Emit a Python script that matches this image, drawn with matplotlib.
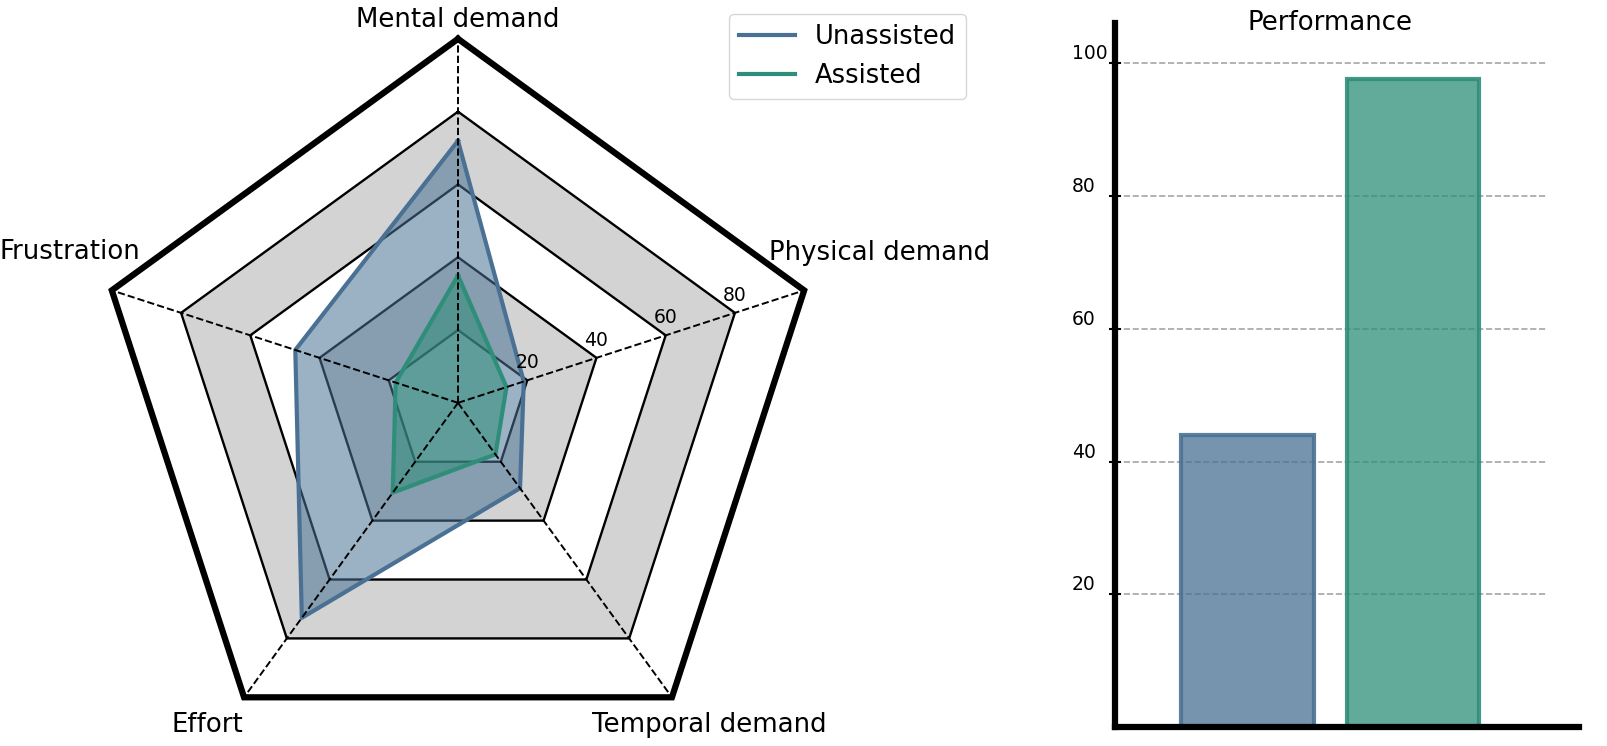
import numpy as np
import matplotlib
matplotlib.use("Agg")
import matplotlib.pyplot as plt
from matplotlib.lines import Line2D

# ---------------- data ----------------
categories = ["Mental demand", "Physical demand", "Temporal demand", "Effort", "Frustration"]
unassisted = [72, 19, 29, 73, 47]
assisted = [35, 14, 17.5, 30.5, 18]
ring_levels = [20, 40, 60, 80]
series_names = ["Unassisted", "Assisted"]
performance = [44, 97.7]
perf_ticks = [20, 40, 60, 80, 100]

blue = "#4a7194"
green = "#2e8e79"
FS = 18.7

fig = plt.figure(figsize=(16.07, 7.46), dpi=100)

# ---------------- radar ----------------
ax = fig.add_axes([0.0585, -0.028, 0.453, 0.976], projection="polar")
ax.set_theta_offset(np.pi / 2)
ax.set_theta_direction(-1)
ax.set_ylim(0, 100)
ax.grid(False)
ax.spines["polar"].set_visible(False)
ax.set_xticks([])
ax.set_yticks([])
ax.patch.set_visible(False)

n = len(categories)
angles = np.arange(n) * 2 * np.pi / n
closed = np.concatenate([angles, angles[:1]])

# alternating bands (20-40 and 60-80 grey)
band_fill = {80: "lightgray", 60: "white", 40: "lightgray", 20: "white"}
for r in sorted(ring_levels, reverse=True):
    ax.fill(closed, [r] * (n + 1), color=band_fill[r], zorder=0.5, lw=0)
for r in ring_levels:
    ax.plot(closed, [r] * (n + 1), color="black", lw=1.7, zorder=1)

def close(v):
    return list(v) + [v[0]]

l1, = ax.plot(closed, close(unassisted), color=blue, lw=3.0, zorder=3)
ax.fill(closed, close(unassisted), color=blue, alpha=0.55, zorder=2, lw=0)
l2, = ax.plot(closed, close(assisted), color=green, lw=3.0, zorder=3)
ax.fill(closed, close(assisted), color=green, alpha=0.55, zorder=2, lw=0)

for a in angles:
    ax.plot([a, a], [0, 100], color="black", ls="--", lw=1.4, zorder=4, clip_on=False)
ax.plot(closed, [100] * (n + 1), color="black", lw=4.5, zorder=5, clip_on=False,
        solid_joinstyle="miter")

# ring value labels along the Physical demand axis
for r in ring_levels:
    ax.annotate(str(r), xy=(angles[1], r), xytext=(0, 6), textcoords="offset points",
                ha="center", va="bottom", fontsize=13.5, zorder=6)

# category labels
label_pos = [(0.0, 105.1), (70.4, 122.9), (142.1, 112.3), (217.9, 112.0), (291.2, 114.3)]
for name, (deg, r) in zip(categories, label_pos):
    ax.text(np.deg2rad(deg), r, name, ha="center", va="center", fontsize=FS, clip_on=False)

fig.legend([Line2D([], [], color=blue, lw=3), Line2D([], [], color=green, lw=3)],
           series_names, loc="upper left", bbox_to_anchor=(729 / 1607, 1 - 14 / 746),
           borderaxespad=0, fontsize=18.5, handlelength=2.15, frameon=True)

# ---------------- bar chart ----------------
ax2 = fig.add_axes([0.6938, 0.0255, 0.268, 0.943])
x = np.arange(len(performance))
cols = [blue, green]
for xi, v, c in zip(x, performance, cols):
    ax2.bar(xi, v, width=0.8, color=matplotlib.colors.to_rgba(c, 0.75),
            edgecolor=matplotlib.colors.to_rgba(c, 0.9), lw=3, zorder=2)
ax2.set_xlim(-0.8, 1.8)
ax2.set_ylim(0, 106)
ax2.set_xticks([])
ax2.set_yticks(perf_ticks)
ax2.set_yticklabels([str(t) for t in perf_ticks])
ax2.tick_params(axis="y", direction="inout", length=8, width=1.5, pad=27, labelsize=13.5)
for lab in ax2.get_yticklabels():
    lab.set_ha("left")
    lab.set_va("bottom")
ax2.yaxis.grid(True, ls="--", color="gray", alpha=0.7, lw=1.2, zorder=1)
ax2.set_axisbelow(True)
for s in ["top", "right"]:
    ax2.spines[s].set_visible(False)
ax2.spines["left"].set_linewidth(4.5)
ax2.spines["bottom"].set_linewidth(4.5)
ax2.spines["bottom"].set_bounds(-0.8, 2.0)
ax2.set_title("Performance", fontsize=FS, y=1.0, pad=-4.5)

fig.savefig("out.png", dpi=100)
